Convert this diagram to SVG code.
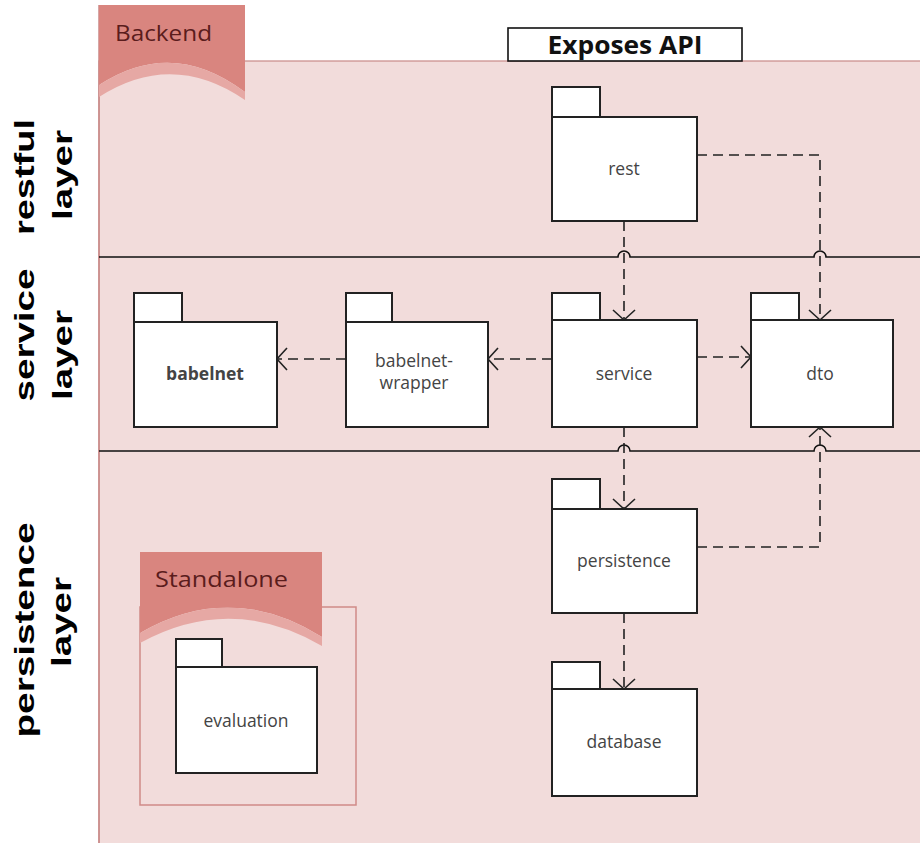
<svg xmlns="http://www.w3.org/2000/svg" width="920" height="843" viewBox="0 0 920 843">
<style>
.pkg{fill:#fff;stroke:#222;stroke-width:2}
.lbl{font-family:"Open Sans","DejaVu Sans",sans-serif;font-size:17.5px;fill:#444;text-anchor:middle}
.side{font-family:"Liberation Sans",Arial,sans-serif;font-weight:bold;font-size:27px;fill:#000;text-anchor:middle}
.dep{fill:none;stroke:#222;stroke-width:1.6;stroke-dasharray:10 6}
.layerline{fill:none;stroke:#111;stroke-width:1.6}
.tabtxt{font-family:"Open Sans","DejaVu Sans",sans-serif;fill:#5a1c1c}
</style>
<defs>
<marker id="open" viewBox="-13 -13 15 26" refX="0" refY="0" markerWidth="15" markerHeight="26" markerUnits="userSpaceOnUse" orient="auto">
<path d="M-10,-11 L0,0 L-10,11" fill="none" stroke="#222" stroke-width="1.6"/>
</marker>
</defs>
<rect x="0" y="0" width="920" height="843" fill="#fff"/>

<g id="backend">
<rect x="99" y="61" width="830" height="790" fill="#f2dcdb" stroke="#c98a88" stroke-width="1.2"/>
<line x1="99" y1="5" x2="99" y2="843" stroke="#c98a88" stroke-width="1.5"/>
<path d="M99,5 H245 V92 Q172,37 99,85 Z" fill="#d9857f"/>
<path d="M99,85 Q172,37 245,92 L245,100 Q172,50 99,97 Z" fill="#e6a8a4"/>
<text class="tabtxt" x="115" y="41" font-size="22" textLength="97" lengthAdjust="spacingAndGlyphs">Backend</text>
</g>

<g id="exposes-api">
<rect x="508" y="28" width="234" height="33" fill="#fff" stroke="#111" stroke-width="1.6"/>
<text x="625" y="54" font-family="'Open Sans','DejaVu Sans',sans-serif" font-weight="bold" font-size="25" text-anchor="middle" fill="#111" textLength="155" lengthAdjust="spacingAndGlyphs">Exposes API</text>
</g>

<g id="layer-lines">
<path class="layerline" d="M99,257 H618 A6,6 0 0 1 630,257 H814 A6,6 0 0 1 826,257 H920"/>
<path class="layerline" d="M99,451 H618 A6,6 0 0 1 630,451 H814 A6,6 0 0 1 826,451 H920"/>
</g>

<g id="side-labels">
<text class="side" transform="translate(34,177) rotate(-90)" textLength="116" lengthAdjust="spacingAndGlyphs">restful</text>
<text class="side" transform="translate(72,175) rotate(-90)" textLength="90" lengthAdjust="spacingAndGlyphs">layer</text>
<text class="side" transform="translate(34,335) rotate(-90)" textLength="133" lengthAdjust="spacingAndGlyphs">service</text>
<text class="side" transform="translate(72,355) rotate(-90)" textLength="90" lengthAdjust="spacingAndGlyphs">layer</text>
<text class="side" transform="translate(34,630) rotate(-90)" textLength="215" lengthAdjust="spacingAndGlyphs">persistence</text>
<text class="side" transform="translate(71,622) rotate(-90)" textLength="90" lengthAdjust="spacingAndGlyphs">layer</text>
</g>

<g id="standalone">
<rect x="140" y="607" width="216" height="198" fill="#f2dcdb" stroke="#d08a88" stroke-width="1.5"/>
<path d="M140,552 H322 V637 Q231,580 140,633 Z" fill="#d9857f"/>
<path d="M140,633 Q231,580 322,637 L322,646 Q231,593 140,643 Z" fill="#e6a8a4"/>
<text class="tabtxt" x="155" y="587" font-size="22" textLength="133" lengthAdjust="spacingAndGlyphs">Standalone</text>
</g>

<g id="rest">
<rect class="pkg" x="552" y="87" width="48" height="30"/>
<rect class="pkg" x="552" y="117" width="145" height="104"/>
<text class="lbl" x="624" y="175">rest</text>
</g>

<g id="babelnet">
<rect class="pkg" x="134" y="293" width="48" height="29"/>
<rect class="pkg" x="134" y="322" width="143" height="105"/>
<text class="lbl" x="205" y="380" font-weight="bold">babelnet</text>
</g>

<g id="babelnet-wrapper">
<rect class="pkg" x="346" y="293" width="46" height="29"/>
<rect class="pkg" x="346" y="322" width="142" height="105"/>
<text class="lbl" x="414" y="367">babelnet-</text>
<text class="lbl" x="414" y="389">wrapper</text>
</g>

<g id="service">
<rect class="pkg" x="552" y="293" width="48" height="27"/>
<rect class="pkg" x="552" y="320" width="145" height="107"/>
<text class="lbl" x="624" y="380">service</text>
</g>

<g id="dto">
<rect class="pkg" x="751" y="293" width="48" height="27"/>
<rect class="pkg" x="751" y="320" width="142" height="107"/>
<text class="lbl" x="820" y="380">dto</text>
</g>

<g id="persistence">
<rect class="pkg" x="552" y="479" width="48" height="30"/>
<rect class="pkg" x="552" y="509" width="145" height="104"/>
<text class="lbl" x="624" y="567">persistence</text>
</g>

<g id="database">
<rect class="pkg" x="552" y="662" width="48" height="27"/>
<rect class="pkg" x="552" y="689" width="145" height="107"/>
<text class="lbl" x="624" y="748">database</text>
</g>

<g id="evaluation">
<rect class="pkg" x="176" y="639" width="46" height="28"/>
<rect class="pkg" x="176" y="667" width="141" height="106"/>
<text class="lbl" x="246" y="727">evaluation</text>
</g>

<g id="connectors">
<path class="dep" d="M624,221 V320" marker-end="url(#open)"/>
<path class="dep" d="M697,155 H820 V320" marker-end="url(#open)"/>
<path class="dep" d="M624,427 V509" marker-end="url(#open)"/>
<path class="dep" d="M697,547 H820 V427" marker-end="url(#open)"/>
<path class="dep" d="M624,613 V689" marker-end="url(#open)"/>
<path class="dep" d="M346,359 H277" marker-end="url(#open)"/>
<path class="dep" d="M552,359 H488" marker-end="url(#open)"/>
<path class="dep" d="M697,357 H751" marker-end="url(#open)"/>
</g>
</svg>
